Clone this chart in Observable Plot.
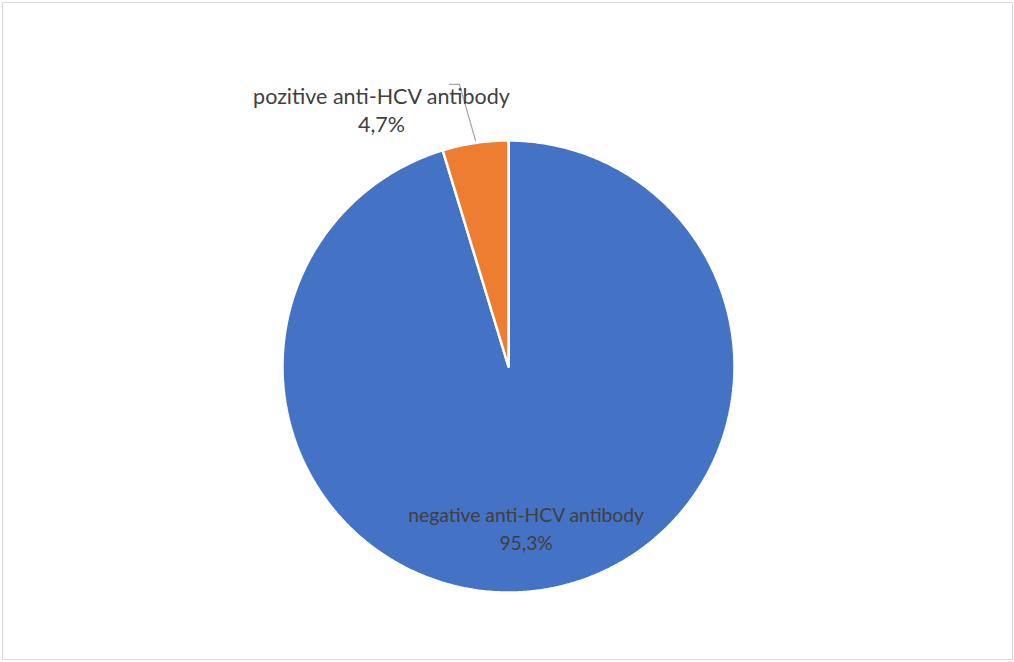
<!DOCTYPE html>
<html>
<head>
<meta charset="utf-8">
<script src="https://cdn.jsdelivr.net/npm/d3@7"></script>
<script src="https://cdn.jsdelivr.net/npm/@observablehq/plot@0.6"></script>
<style>
  html, body { margin: 0; padding: 0; background: #fff; }
  #wrap { position: relative; width: 1014px; height: 662px; }
  #border { position: absolute; left: 2px; top: 2px; width: 1009px; height: 656px; border: 1px solid #d9d9d9; pointer-events: none; }
  #chart { position: absolute; left: 0; top: 0; }
</style>
</head>
<body>
<div id="wrap"><div id="chart"></div><div id="border"></div></div>
<script>
// Data
const categories = ["negative anti-HCV antibody", "pozitive anti-HCV antibody"];
const shares = [95.3, 4.7];
const valueLabels = ["95,3%", "4,7%"];
const sliceColors = ["#4472C4", "#ED7D31"];

// Layout (in pie-radius units, origin at pie centre)
const labelPos = [
  {x: 0.078, y: -0.71, size: 19.3},
  {x: -0.562, y: 1.14, size: 21.5}
];
const leader = [
  {x: -0.146, y: 1.0},
  {x: -0.217, y: 1.248},
  {x: -0.261, y: 1.248}
];

const W = 1014, H = 662, CX = 508, CY = 366, R = 226;

// Build slice polygons from the shares (Excel-style: start at 12 o'clock, clockwise)
const total = d3.sum(shares);
const polys = [];
let start = 0;
categories.forEach((c, i) => {
  const a0 = start, a1 = start + shares[i] / total * 2 * Math.PI;
  start = a1;
  const n = Math.max(2, Math.ceil((a1 - a0) / 0.01));
  polys.push({cat: c, x: 0, y: 0});
  for (let k = 0; k <= n; k++) {
    const a = a0 + (a1 - a0) * k / n;
    polys.push({cat: c, x: Math.sin(a), y: Math.cos(a)});
  }
  polys.push({cat: c, x: 0, y: 0});
});

const labels = categories.map((c, i) => ({
  text: c + "\n" + valueLabels[i], x: labelPos[i].x, y: labelPos[i].y, size: labelPos[i].size
}));

const plot = Plot.plot({
  width: W, height: H,
  margin: 0,
  x: {domain: [-CX / R, (W - CX) / R], range: [0, W], axis: null},
  y: {domain: [-(H - CY) / R, CY / R], range: [H, 0], axis: null},
  color: {domain: categories, range: sliceColors},
  style: {fontFamily: "Lato, sans-serif", background: "transparent"},
  marks: [
    Plot.line(polys, {x: "x", y: "y", z: "cat", fill: "cat", stroke: "#ffffff", strokeWidth: 2.5, strokeLinejoin: "miter", curve: "linear"}),
    Plot.line(leader, {x: "x", y: "y", stroke: "#a6a6a6", strokeWidth: 1.2}),
    ...labels.map(l => Plot.text([l], {x: "x", y: "y", text: "text", fill: "#404040", fontSize: l.size, lineHeight: 28 / l.size, textAnchor: "middle", lineAnchor: "middle"}))
  ]
});
document.getElementById("chart").appendChild(plot);
</script>
</body>
</html>
